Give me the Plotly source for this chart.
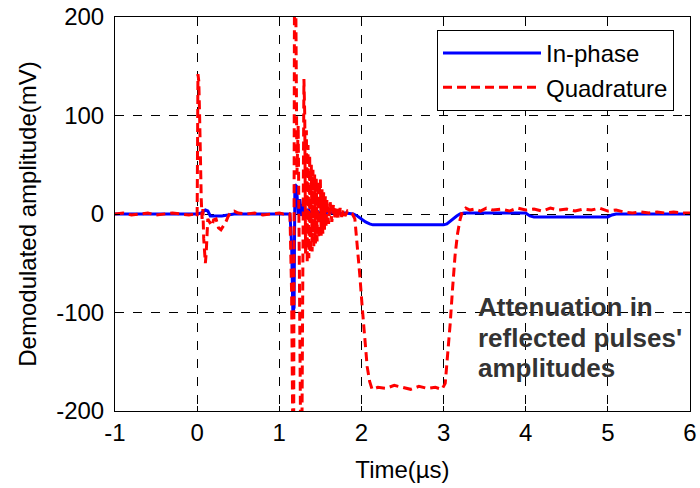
import plotly.graph_objects as go

# ---- data ----
t_inphase = [-1.0, -0.8, -0.6, -0.4, -0.2, 0.0, 0.05, 0.1, 0.13, 0.16, 0.3, 0.45, 0.7, 1.0, 1.13,
             1.15, 1.165, 1.18, 1.19, 1.21, 1.23, 1.25, 1.27, 1.29, 1.32, 1.35, 1.4, 1.45, 1.5, 1.6, 1.7,
             1.8, 1.9, 1.95, 2.0, 2.05, 2.1, 2.14, 2.5, 3.0, 3.04, 3.08, 3.12, 3.16, 3.2, 3.25, 3.3,
             3.6, 4.0, 4.05, 4.1, 4.5, 5.0, 5.05, 5.1, 5.5, 6.0]
v_inphase = [0, 0, 0, 0, 0, 0, 1, 4, 3, -2, -2, 0, 0, 0, 0,
             -30, -100, -95, 30, 28, 0, 15, -2, 10, 0, 5, -2, 4, 0, 2, 0,
             1, 0, -2, -5, -8, -10, -11, -11, -11, -10, -7, -4, -2, 0, 1, 1,
             1, 1, -2, -3, -3, -3, -1, 0, 0, 0]

t_quad = [-1.0, -0.9, -0.8, -0.7, -0.6, -0.5, -0.4, -0.3, -0.2, -0.1, -0.02, 0.0,
          0.01, 0.02, 0.03, 0.04, 0.05, 0.06, 0.07, 0.08, 0.09, 0.10, 0.11, 0.12, 0.13,
          0.15, 0.18, 0.20, 0.23, 0.26, 0.29, 0.32, 0.35, 0.38, 0.41, 0.45, 0.5, 0.6, 0.7,
          0.8, 0.9, 1.0, 1.05, 1.1, 1.13,
          1.15, 1.165, 1.175, 1.185, 1.2, 1.215, 1.23, 1.245, 1.26, 1.275, 1.29, 1.30,
          1.31, 1.32, 1.33, 1.34, 1.35, 1.36, 1.37, 1.38, 1.39, 1.40, 1.41, 1.42, 1.43,
          1.44, 1.45, 1.46, 1.47, 1.48, 1.49, 1.50, 1.51, 1.52, 1.53, 1.54, 1.55, 1.56,
          1.57, 1.58, 1.60, 1.62, 1.64, 1.66, 1.68, 1.70, 1.72, 1.74, 1.76, 1.78, 1.80,
          1.83, 1.86, 1.89, 1.92, 1.95, 1.98, 2.01, 2.04, 2.07, 2.10, 2.13,
          2.2, 2.3, 2.4, 2.5, 2.6, 2.7, 2.8, 2.9, 2.98, 3.02, 3.05, 3.08, 3.11, 3.14,
          3.17, 3.2, 3.23, 3.27, 3.32, 3.38, 3.45, 3.52, 3.6, 3.7, 3.8, 3.9, 4.0, 4.1,
          4.2, 4.3, 4.4, 4.5, 4.6, 4.7, 4.8, 4.9, 5.0, 5.1, 5.2, 5.3, 5.4, 5.5, 5.6,
          5.7, 5.8, 5.9, 6.0]
v_quad = [0, 1, -1, 0, 1, -1, 0, 1, 0, -1, 0, -2,
          142, 135, 100, 30, 15, -5, 5, -25, -45, -50, -40, -15, -5,
          -8, -12, -6, -5, -14, -16, -12, -8, -2, 2, 3, 1, 0, 1,
          -1, 0, 1, 0, 1, 0,
          -80, -230, -230, 230, 230, 40, 90, -60, -230, -230, 60, 137,
          100, -40, 85, -50, 70, -45, 60, -40, 50, -38, 45, -35, 40,
          -30, 38, -28, 33, -25, 30, 35, -22, 25, -20, 22, -16, 18,
          -13, 15, -10, 12, -8, 10, -6, 8, -5, 6, -3, 5, -2,
          3, 1, 0, -5, -30, -62, -95, -128, -155, -170, -178,
          -176, -177, -174, -176, -178, -175, -177, -176, -178, -172, -145, -112, -75, -42,
          -20, -6, 3, 6, 4, 5, 3, 6, 4, 5, 3, 6, 4, 5,
          3, 6, 4, 5, 3, 5, 4, 6, 3, 4, 2, 1, 2, 1, 2,
          1, 2, 1, 1]

y_ticks = [-200, -100, 0, 100, 200]
y_ticktext = ["-200", "-100", "0", "100", "200"]
x_ticks = [-1, 0, 1, 2, 3, 4, 5, 6]
x_ticktext = ["-1", "0", "1", "2", "3", "4", "5", "6"]
note_lines = ["Attenuation in", "reflected pulses'", "amplitudes"]

fig = go.Figure()
fig.add_trace(go.Scatter(x=t_inphase, y=v_inphase, mode="lines", name="In-phase",
                         line=dict(color="#0000FF", width=3)))
fig.add_trace(go.Scatter(x=t_quad, y=v_quad, mode="lines", name="Quadrature",
                         line=dict(color="#FF0000", width=3, dash="9px,5px")))

axis_common = dict(showline=True, linecolor="black", linewidth=1, mirror="ticks",
                   ticks="inside", ticklen=5, tickcolor="black", automargin=False,
                   showgrid=True, gridcolor="black", gridwidth=1, griddash="dash",
                   zeroline=False, tickfont=dict(size=24, color="black"))

fig.update_xaxes(range=[-1, 6], tickvals=x_ticks, ticktext=x_ticktext, ticklabelstandoff=0,
                 title=dict(text="Time(µs)", font=dict(size=24, color="black"), standoff=16),
                 **axis_common)
fig.update_yaxes(range=[-200, 200], tickvals=y_ticks, ticktext=y_ticktext, ticklabelstandoff=5,
                 title=dict(text="Demodulated amplitude(mV)", font=dict(size=24, color="black"), standoff=12),
                 **axis_common)

for i, line in enumerate(note_lines):
    fig.add_annotation(x=0.628, y=0.264 - i * 0.0775, xref="paper", yref="paper",
                       xanchor="left", yanchor="middle", showarrow=False, text="<b>" + line + "</b>",
                       font=dict(family="Liberation Sans, Arial", size=26, color="#333333"))

fig.update_layout(
    width=700, height=488,
    margin=dict(l=115, r=10, t=17, b=77),
    paper_bgcolor="white", plot_bgcolor="white",
    font=dict(family="Liberation Sans, Arial", size=24, color="black"),
    showlegend=True,
    legend=dict(x=0.56, y=0.967, xanchor="left", yanchor="top", bgcolor="white",
                bordercolor="black", borderwidth=1, itemwidth=98,
                font=dict(size=24, color="black")),
)

# remove the default 8px page margin so the figure fills the 700x488 window exactly
fig.write_html("out.html", config={"displayModeBar": False},
               post_script="document.body.style.margin='0px';")
